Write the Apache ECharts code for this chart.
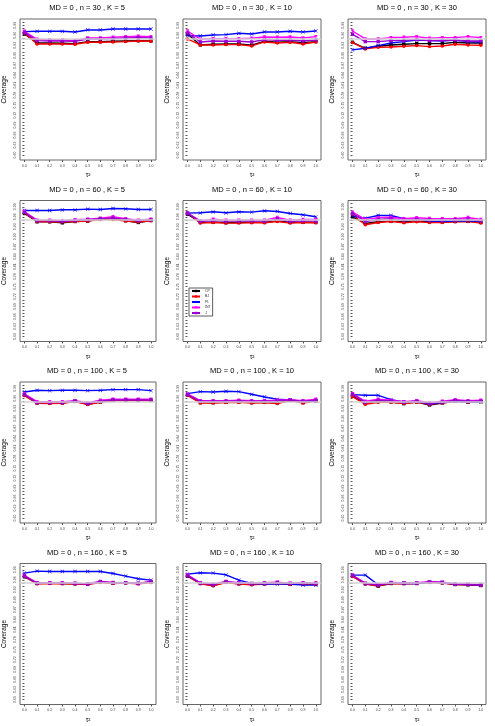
<!DOCTYPE html>
<html lang="en">
  <head>
    <meta charset="UTF-8" />
    <title>Coverage by tau^2</title>
    <style>
      * { margin: 0; padding: 0; box-sizing: border-box; }
      #main { width: 495px; height: 726px; background: #fff; }
    </style>
  </head>
  <body>
    <div id="main"></div>
    <script src="https://cdn.jsdelivr.net/npm/echarts@6/dist/echarts.min.js"></script>
    <script>
      const myChart = echarts.init(document.getElementById("main"));

      // x values (tau^2) and panel settings
      const taus = [0, 0.1, 0.2, 0.3, 0.4, 0.5, 0.6, 0.7, 0.8, 0.9, 1.0];
      const nValues = [30, 60, 100, 160];
      const kValues = [5, 10, 30];
      const methods = ["CP", "BJ", "PL", "INT", "J"];
      const yLabelVals = [0.6, 0.63, 0.66, 0.69, 0.72, 0.75, 0.78, 0.81, 0.84, 0.87, 0.9, 0.93, 0.96, 0.99];

      // one row per panel, order: n=30 K=5,10,30 ; n=60 ... ; n=100 ... ; n=160 ...
      const CP = [
        [0.964, 0.937, 0.937, 0.936, 0.935, 0.941, 0.941, 0.942, 0.943, 0.944, 0.943],
        [0.964, 0.931, 0.933, 0.934, 0.934, 0.930, 0.942, 0.939, 0.941, 0.938, 0.941],
        [0.939, 0.921, 0.927, 0.931, 0.933, 0.935, 0.935, 0.935, 0.939, 0.937, 0.937],
        [0.970, 0.945, 0.945, 0.942, 0.946, 0.947, 0.953, 0.954, 0.948, 0.943, 0.949],
        [0.968, 0.943, 0.944, 0.942, 0.943, 0.944, 0.943, 0.948, 0.943, 0.944, 0.943],
        [0.960, 0.940, 0.945, 0.947, 0.945, 0.948, 0.945, 0.945, 0.946, 0.947, 0.943],
        [0.969, 0.946, 0.945, 0.946, 0.951, 0.942, 0.949, 0.954, 0.954, 0.954, 0.954],
        [0.970, 0.947, 0.947, 0.948, 0.949, 0.947, 0.948, 0.946, 0.954, 0.947, 0.953],
        [0.967, 0.944, 0.950, 0.949, 0.944, 0.949, 0.940, 0.946, 0.952, 0.948, 0.950],
        [0.969, 0.949, 0.950, 0.949, 0.948, 0.947, 0.953, 0.950, 0.951, 0.949, 0.953],
        [0.971, 0.949, 0.943, 0.953, 0.948, 0.946, 0.948, 0.950, 0.947, 0.948, 0.947],
        [0.971, 0.948, 0.941, 0.949, 0.949, 0.949, 0.953, 0.951, 0.946, 0.945, 0.943],
      ];
      const BJ = [
        [0.967, 0.934, 0.934, 0.934, 0.933, 0.939, 0.939, 0.940, 0.941, 0.943, 0.942],
        [0.949, 0.931, 0.931, 0.932, 0.932, 0.928, 0.940, 0.937, 0.939, 0.934, 0.940],
        [0.938, 0.919, 0.924, 0.925, 0.927, 0.929, 0.926, 0.928, 0.933, 0.931, 0.930],
        [0.972, 0.946, 0.945, 0.944, 0.946, 0.947, 0.952, 0.952, 0.947, 0.944, 0.948],
        [0.972, 0.941, 0.943, 0.941, 0.941, 0.942, 0.942, 0.946, 0.941, 0.943, 0.942],
        [0.966, 0.936, 0.943, 0.946, 0.942, 0.945, 0.943, 0.943, 0.945, 0.946, 0.941],
        [0.968, 0.945, 0.944, 0.945, 0.950, 0.941, 0.948, 0.953, 0.953, 0.953, 0.953],
        [0.969, 0.946, 0.946, 0.947, 0.948, 0.946, 0.947, 0.944, 0.953, 0.946, 0.952],
        [0.965, 0.942, 0.948, 0.948, 0.944, 0.948, 0.942, 0.946, 0.951, 0.948, 0.950],
        [0.970, 0.948, 0.949, 0.948, 0.947, 0.946, 0.952, 0.949, 0.950, 0.948, 0.952],
        [0.972, 0.948, 0.942, 0.952, 0.947, 0.945, 0.947, 0.949, 0.946, 0.947, 0.946],
        [0.970, 0.947, 0.942, 0.949, 0.948, 0.949, 0.952, 0.950, 0.946, 0.945, 0.943],
      ];
      const PL = [
        [0.971, 0.972, 0.972, 0.972, 0.970, 0.976, 0.976, 0.979, 0.979, 0.979, 0.979],
        [0.959, 0.958, 0.961, 0.962, 0.966, 0.964, 0.970, 0.970, 0.972, 0.970, 0.973],
        [0.916, 0.921, 0.929, 0.937, 0.941, 0.946, 0.944, 0.943, 0.946, 0.941, 0.940],
        [0.979, 0.979, 0.979, 0.981, 0.981, 0.983, 0.982, 0.985, 0.984, 0.982, 0.982],
        [0.971, 0.972, 0.975, 0.972, 0.975, 0.974, 0.978, 0.976, 0.970, 0.966, 0.960],
        [0.962, 0.956, 0.964, 0.964, 0.954, 0.952, 0.947, 0.946, 0.947, 0.947, 0.947],
        [0.979, 0.984, 0.983, 0.984, 0.984, 0.983, 0.984, 0.986, 0.986, 0.986, 0.983],
        [0.974, 0.980, 0.979, 0.981, 0.980, 0.972, 0.964, 0.957, 0.955, 0.951, 0.951],
        [0.971, 0.969, 0.969, 0.956, 0.949, 0.951, 0.943, 0.947, 0.951, 0.949, 0.949],
        [0.980, 0.986, 0.985, 0.985, 0.985, 0.985, 0.985, 0.979, 0.971, 0.963, 0.959],
        [0.977, 0.981, 0.980, 0.975, 0.959, 0.949, 0.947, 0.947, 0.947, 0.944, 0.944],
        [0.974, 0.974, 0.945, 0.950, 0.949, 0.949, 0.953, 0.952, 0.947, 0.946, 0.944],
      ];
      const INT = [
        [0.972, 0.948, 0.946, 0.946, 0.944, 0.952, 0.952, 0.954, 0.956, 0.957, 0.956],
        [0.973, 0.948, 0.950, 0.950, 0.950, 0.951, 0.955, 0.954, 0.955, 0.952, 0.956],
        [0.973, 0.949, 0.949, 0.953, 0.954, 0.956, 0.951, 0.953, 0.953, 0.956, 0.953],
        [0.976, 0.950, 0.950, 0.948, 0.951, 0.953, 0.956, 0.960, 0.954, 0.950, 0.953],
        [0.971, 0.948, 0.953, 0.950, 0.950, 0.950, 0.950, 0.958, 0.950, 0.952, 0.952],
        [0.974, 0.952, 0.957, 0.959, 0.954, 0.957, 0.955, 0.954, 0.954, 0.958, 0.952],
        [0.973, 0.950, 0.950, 0.950, 0.953, 0.947, 0.954, 0.957, 0.957, 0.957, 0.957],
        [0.973, 0.953, 0.953, 0.953, 0.954, 0.953, 0.953, 0.954, 0.956, 0.953, 0.957],
        [0.974, 0.951, 0.957, 0.954, 0.950, 0.953, 0.947, 0.951, 0.956, 0.953, 0.954],
        [0.973, 0.951, 0.951, 0.951, 0.950, 0.948, 0.955, 0.952, 0.951, 0.950, 0.955],
        [0.975, 0.951, 0.947, 0.955, 0.951, 0.949, 0.951, 0.953, 0.950, 0.951, 0.951],
        [0.974, 0.950, 0.946, 0.952, 0.951, 0.951, 0.954, 0.953, 0.948, 0.947, 0.946],
      ];
      const J = [
        [0.968, 0.944, 0.943, 0.943, 0.942, 0.949, 0.949, 0.950, 0.952, 0.953, 0.952],
        [0.967, 0.940, 0.943, 0.942, 0.942, 0.940, 0.947, 0.945, 0.946, 0.943, 0.946],
        [0.963, 0.941, 0.941, 0.944, 0.945, 0.947, 0.944, 0.945, 0.946, 0.943, 0.943],
        [0.973, 0.948, 0.948, 0.946, 0.949, 0.951, 0.954, 0.956, 0.952, 0.948, 0.951],
        [0.970, 0.946, 0.949, 0.947, 0.947, 0.948, 0.947, 0.953, 0.946, 0.948, 0.947],
        [0.970, 0.946, 0.952, 0.954, 0.950, 0.952, 0.951, 0.950, 0.951, 0.953, 0.948],
        [0.971, 0.947, 0.947, 0.947, 0.952, 0.944, 0.951, 0.955, 0.955, 0.955, 0.955],
        [0.971, 0.951, 0.951, 0.951, 0.952, 0.951, 0.951, 0.952, 0.954, 0.951, 0.954],
        [0.972, 0.948, 0.954, 0.952, 0.948, 0.951, 0.944, 0.949, 0.954, 0.951, 0.952],
        [0.971, 0.950, 0.950, 0.950, 0.949, 0.947, 0.954, 0.951, 0.951, 0.949, 0.954],
        [0.973, 0.950, 0.945, 0.954, 0.950, 0.948, 0.950, 0.952, 0.949, 0.950, 0.949],
        [0.973, 0.949, 0.944, 0.951, 0.950, 0.950, 0.953, 0.952, 0.947, 0.946, 0.945],
      ];

      const seriesData = { CP, BJ, PL, INT, J };
      const colors = { CP: "#000000", BJ: "#ff0000", PL: "#0000ff", INT: "#ff00ff", J: "#9a00d0" };
      const crossPath = "path://M0,1L1,0L5,4L9,0L10,1L6,5L10,9L9,10L5,6L1,10L0,9L4,5Z";
      const symbols = { CP: "rect", BJ: "circle", PL: crossPath, INT: "triangle", J: "rect" };
      const symbolRotate = { CP: 0, BJ: 0, PL: 0, INT: 180, J: 0 };

      const yTickVals = [];
      for (let i = 0; i <= 40; i++) yTickVals.push(+(0.6 + i * 0.01).toFixed(2));

      const font = "Liberation Sans";
      const colW = 165, rowH = 181.5;
      const grids = [], xAxes = [], yAxes = [], series = [], graphics = [];

      nValues.forEach((n, r) => {
        kValues.forEach((k, c) => {
          const idx = r * 3 + c;
          grids.push({
            left: c * colW + 18,
            top: r * rowH + 19,
            width: 138,
            height: 141,
            show: true,
            borderColor: "#666",
            borderWidth: 1,
          });
          xAxes.push({
            type: "value",
            gridIndex: idx,
            min: -0.035,
            max: 1.04,
            splitLine: { show: false },
            axisLine: { show: false },
            axisTick: { show: true, length: 2, customValues: taus, lineStyle: { color: "#555" } },
            axisLabel: {
              customValues: taus,
              fontSize: 3.5,
              margin: 4,
              color: "#444",
              fontFamily: font,
              formatter: (v) => v.toFixed(1),
            },
            name: "τ²",
            nameLocation: "middle",
            nameGap: 12,
            nameTextStyle: { fontSize: 6.5, fontFamily: font, color: "#000" },
          });
          yAxes.push({
            type: "value",
            gridIndex: idx,
            min: 0.585,
            max: 1.009,
            splitLine: { show: false },
            axisLine: { show: false },
            axisTick: { show: true, length: 2, customValues: yTickVals, lineStyle: { color: "#555" } },
            axisLabel: {
              customValues: yLabelVals,
              rotate: 90,
              fontSize: 3.5,
              margin: 3,
              color: "#444",
              fontFamily: font,
              formatter: (v) => v.toFixed(2),
            },
            name: "Coverage",
            nameLocation: "middle",
            nameGap: 12,
            nameTextStyle: { fontSize: 6.5, fontFamily: font, color: "#000" },
          });
          graphics.push({
            type: "text",
            x: c * colW + 87,
            y: r * rowH + 4,
            style: {
              text: "MD = 0 , n = " + n + " , K = " + k,
              textAlign: "center",
              fontSize: 7.5,
              fontFamily: font,
              fill: "#000",
            },
          });
          // nominal 95% line
          series.push({
            type: "line",
            name: "nominal",
            xAxisIndex: idx,
            yAxisIndex: idx,
            data: [],
            z: 1,
            markLine: {
              silent: true,
              symbol: ["none", "none"],
              label: { show: false },
              lineStyle: { color: "#d3d3d3", width: 1.5, type: "solid" },
              data: [{ yAxis: 0.95 }],
            },
          });
          methods.forEach((m) => {
            series.push({
              type: "line",
              name: m,
              xAxisIndex: idx,
              yAxisIndex: idx,
              data: taus.map((t, i) => [t, seriesData[m][idx][i]]),
              color: colors[m],
              lineStyle: { width: 1.4 },
              symbol: symbols[m],
              symbolRotate: symbolRotate[m],
              symbolSize: m === "PL" ? 3.8 : 3.4,
              showSymbol: true,
              z: 2,
            });
          });
        });
      });

      const option = {
        animation: false,
        backgroundColor: "#fff",
        textStyle: { fontFamily: font },
        grid: grids,
        xAxis: xAxes,
        yAxis: yAxes,
        graphic: graphics,
        legend: {
          data: methods,
          orient: "vertical",
          left: 189,
          top: 288,
          itemWidth: 8,
          itemHeight: 3,
          itemGap: 1.5,
          padding: [1, 2],
          borderColor: "#333",
          borderWidth: 0.8,
          textStyle: { fontSize: 3.5, color: "#333", fontFamily: font },
        },
        series: series,
      };
      myChart.setOption(option);
    </script>
  </body>
</html>
